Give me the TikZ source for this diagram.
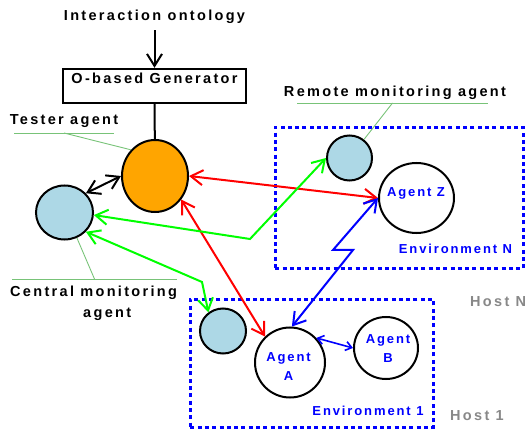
\documentclass[tikz,border=0pt]{standalone}
\usepackage{fontspec}
\setmainfont{Liberation Sans}
\newfontfamily\labelfont{Liberation Sans}[LetterSpace=16]
\newfontfamily\agentfont{Liberation Sans}[LetterSpace=14.5]
\usetikzlibrary{shapes.geometric, arrows.meta}
\definecolor{monblue}{RGB}{173,216,230}
\definecolor{testorange}{RGB}{255,165,0}
\definecolor{taggreen}{RGB}{120,195,120}
\definecolor{hostgray}{RGB}{136,136,136}
\tikzset{
  lbl/.style={inner sep=0pt, font=\labelfont\bfseries\fontsize{14.5}{21}\selectfont},
  agenttxt/.style={inner sep=0pt, text=blue, align=center,
    font=\agentfont\bfseries\fontsize{13}{18.5}\selectfont},
  hostlbl/.style={lbl, text=hostgray},
  agent/.style={ellipse, draw, line width=2pt, inner sep=0pt, fill=white},
  monitor/.style={agent, fill=monblue},
  genbox/.style={rectangle, draw, line width=2.4pt, inner sep=0pt,
    minimum width=183pt, minimum height=34pt, text height=9pt, text depth=13pt},
  envbox/.style={rectangle, draw=blue, line width=2.6pt, dash pattern=on 4pt off 3.3pt,
    anchor=north west, inner sep=0pt},
  tag/.style={draw=taggreen, line width=0.9pt},
  arr/.style={-{Straight Barb[length=12pt, width=15pt]}, line width=2pt},
  biarr/.style={{Straight Barb[length=12pt, width=15pt]}-{Straight Barb[length=12pt, width=15pt]}, line width=2pt},
  smallbiarr/.style={{Straight Barb[length=6pt, width=9pt]}-{Straight Barb[length=6pt, width=9pt]}, line width=1.6pt},
}

\begin{document}
\begin{tikzpicture}[x=1pt, y=-1pt]
  \useasboundingbox (0,0) rectangle (527,430);

  % Environments
  \node[envbox, minimum width=248pt, minimum height=141pt] (envN) at (274,126) {};
  \node[envbox, minimum width=243pt, minimum height=128pt] (env1) at (189,298) {};
  \node[agenttxt, anchor=base] (envNlbl) at (455.5,254) {Environment N};
  \node[agenttxt, anchor=base] (env1lbl) at (368,415) {Environment 1};
  \node[hostlbl, anchor=base west] (hostN) at (470,306) {Host N};
  \node[hostlbl, anchor=base west] (host1) at (450,420) {Host 1};

  % Generator
  \node[lbl, anchor=base] (onto) at (154.5,21) {Interaction ontology};
  \node[genbox, lbl, inner sep=0pt] (gen) at (154.5,86) {O-based Generator};
  \draw[arr, shorten <=6pt] (onto) -- (gen);

  % Agents
  \node[agent, fill=testorange, minimum width=66pt, minimum height=72pt] (tester) at (155,176) {};
  \node[monitor, minimum width=57pt, minimum height=54pt] (central) at (64.5,212.5) {};
  \node[monitor, minimum width=45pt, minimum height=45pt] (remote) at (349.5,158) {};
  \node[monitor, minimum width=46pt, minimum height=45pt] (localmon) at (223,331) {};
  \node[agent, minimum width=75pt, minimum height=70pt] (agentZ) at (416.5,198) {};
  \node[agent, minimum width=70pt, minimum height=70pt] (agentA) at (290,362.5) {};
  \node[agent, minimum width=64pt, minimum height=62pt] (agentB) at (386,348) {};
  \node[agenttxt, anchor=base] (agentZlbl) at (416,197) {Agent Z};
  \node[agenttxt, anchor=base] (agentAlbl) at (288.5,380) {Agent\\A};
  \node[agenttxt, anchor=base] (agentBlbl) at (388,362) {Agent\\B};

  \draw[line width=2pt] (gen) -- (tester);

  % Labels with tag lines
  \node[lbl, anchor=base] (testerlbl) at (64,125) {Tester agent};
  \node[lbl, anchor=base west, align=left] (centrallbl) at (10,317) {Central monitoring\\\hspace*{73pt}agent};
  \node[lbl, anchor=base] (remotelbl) at (395,97) {Remote monitoring agent};
  \coordinate (ttag) at (64,133);
  \coordinate (ctag) at (94.5,279);
  \coordinate (rtag) at (392.5,103);
  \draw[tag] ([xshift=-50pt]ttag) -- ([xshift=50pt]ttag);
  \draw[tag] (ttag) -- (tester.north west);
  \draw[tag] ([xshift=-82.5pt]ctag) -- ([xshift=82.5pt]ctag);
  \draw[tag] (ctag) -- (central.-64);
  \draw[tag] ([xshift=-95.5pt]rtag) -- ([xshift=95.5pt]rtag);
  \draw[tag] (rtag) -- (remote.52);

  % Interactions
  \coordinate (gbend1) at (250,239);
  \coordinate (gbend2) at (202,282);
  \coordinate (zigA) at (353,250);
  \coordinate (zigB) at (333,250);
  \draw[biarr] (central.42) -- (tester.180);
  \draw[biarr, red] (tester.0) -- (agentZ.west);
  \draw[biarr, red] (tester.-42) -- (agentA.134);
  \draw[biarr, green] (central.-5) -- (gbend1) -- (remote.west);
  \draw[biarr, green] (central.-42) -- (gbend2) -- (localmon.128);
  \draw[biarr, blue] (agentA.87) -- (zigA) -- (zigB) -- (agentZ.west);
  \draw[smallbiarr, blue] (agentA.43) -- (agentB.west);
\end{tikzpicture}
\end{document}
